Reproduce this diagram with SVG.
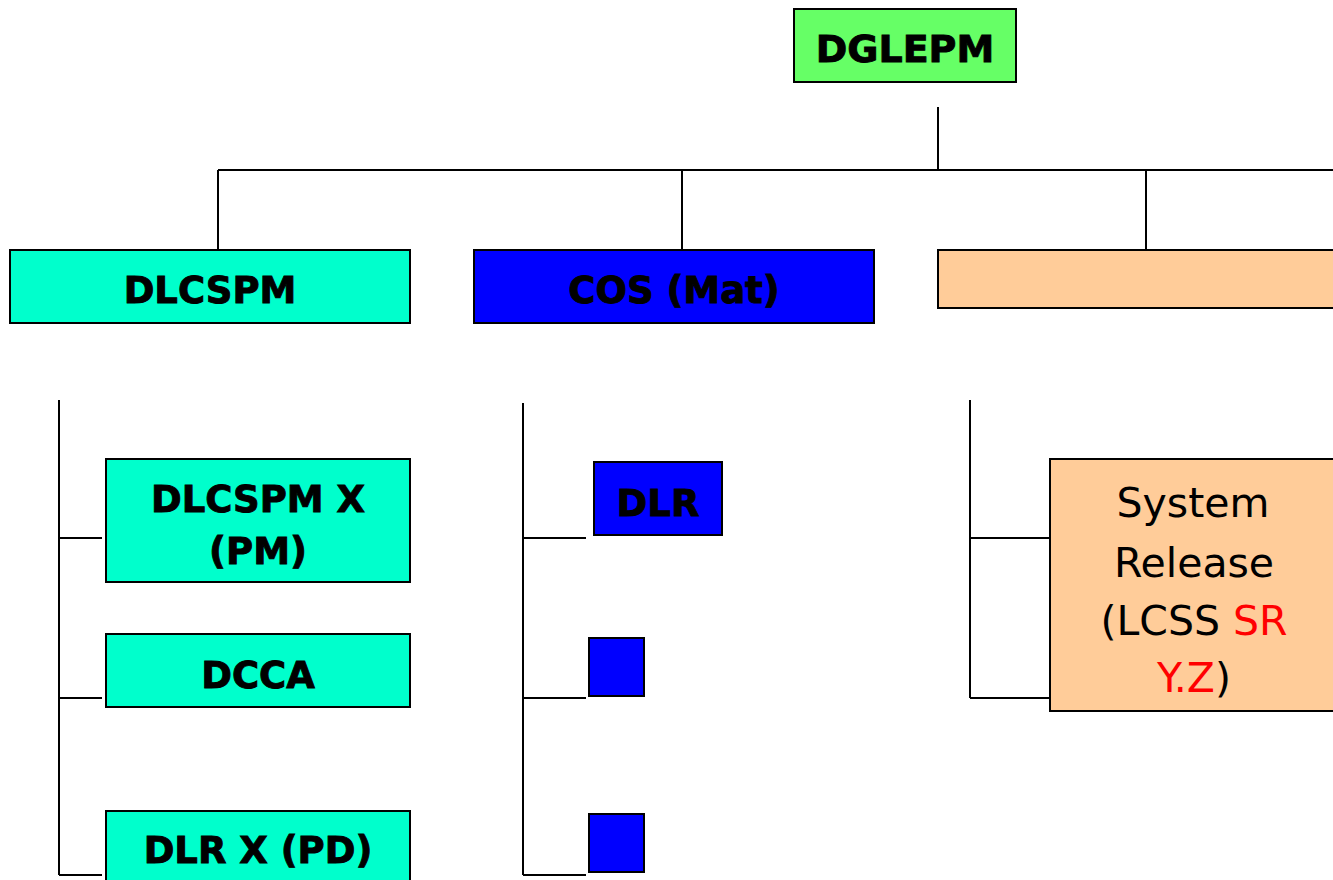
<svg xmlns="http://www.w3.org/2000/svg" width="1333" height="880" viewBox="0 0 1333 880">
<style>
.box{stroke:#000;stroke-width:2}
.g{fill:#66FF66}.c{fill:#00FFCC}.b{fill:#0000FF}.o{fill:#FFCC99}
.t{font-family:"DejaVu Sans",Verdana,sans-serif;font-weight:bold;font-size:37px;fill:#000;stroke:#000;stroke-width:0.9;text-anchor:middle}
.n{font-family:"DejaVu Sans",Verdana,sans-serif;font-size:41px;fill:#000;text-anchor:middle}
.ln{stroke:#000;stroke-width:2;fill:none}
</style>
<rect width="1333" height="880" fill="#fff"/>
<g id="connectors" class="ln">
<path d="M938 107V170M218 170H1333M218 170V250M682 170V250M1146 170V250"/>
<path d="M59 400V875M59 538H102M59 698H102M59 875H102"/>
<path d="M523 403V875M523 538H586M523 698H586M523 875H586"/>
<path d="M970 400V698M970 538H1050M970 698H1050"/>
</g>
<g id="dglepm"><rect class="box g" x="794" y="9" width="222" height="73"/><text class="t" x="905" y="62" style="font-size:38px">DGLEPM</text></g>
<g id="dlcspm"><rect class="box c" x="10" y="250" width="400" height="73"/><text class="t" x="210" y="303">DLCSPM</text></g>
<g id="cos"><rect class="box b" x="474" y="250" width="400" height="73"/><text class="t" x="674" y="303">COS (Mat)</text></g>
<g id="orange"><rect class="box o" x="938" y="250" width="400" height="58"/></g>
<g id="dlcspmx"><rect class="box c" x="106" y="459" width="304" height="123"/><text class="t" x="258" y="512">DLCSPM X</text><text class="t" x="258" y="564">(PM)</text></g>
<g id="dcca"><rect class="box c" x="106" y="634" width="304" height="73"/><text class="t" x="258" y="688">DCCA</text></g>
<g id="dlrx"><rect class="box c" x="106" y="811" width="304" height="80"/><text class="t" x="258" y="863">DLR X (PD)</text></g>
<g id="dlr"><rect class="box b" x="594" y="462" width="128" height="73"/><text class="t" x="658" y="516">DLR</text></g>
<g id="sq1"><rect class="box b" x="589" y="638" width="55" height="58"/></g>
<g id="sq2"><rect class="box b" x="589" y="814" width="55" height="58"/></g>
<g id="sysrel"><rect class="box o" x="1050" y="459" width="290" height="252"/>
<text class="n" x="1193" y="517">System</text>
<text class="n" x="1194" y="577">Release</text>
<text class="n" x="1194" y="635">(LCSS <tspan fill="#FF0000">SR</tspan></text>
<text class="n" x="1194" y="692"><tspan fill="#FF0000">Y.Z</tspan>)</text>
</g>
</svg>
